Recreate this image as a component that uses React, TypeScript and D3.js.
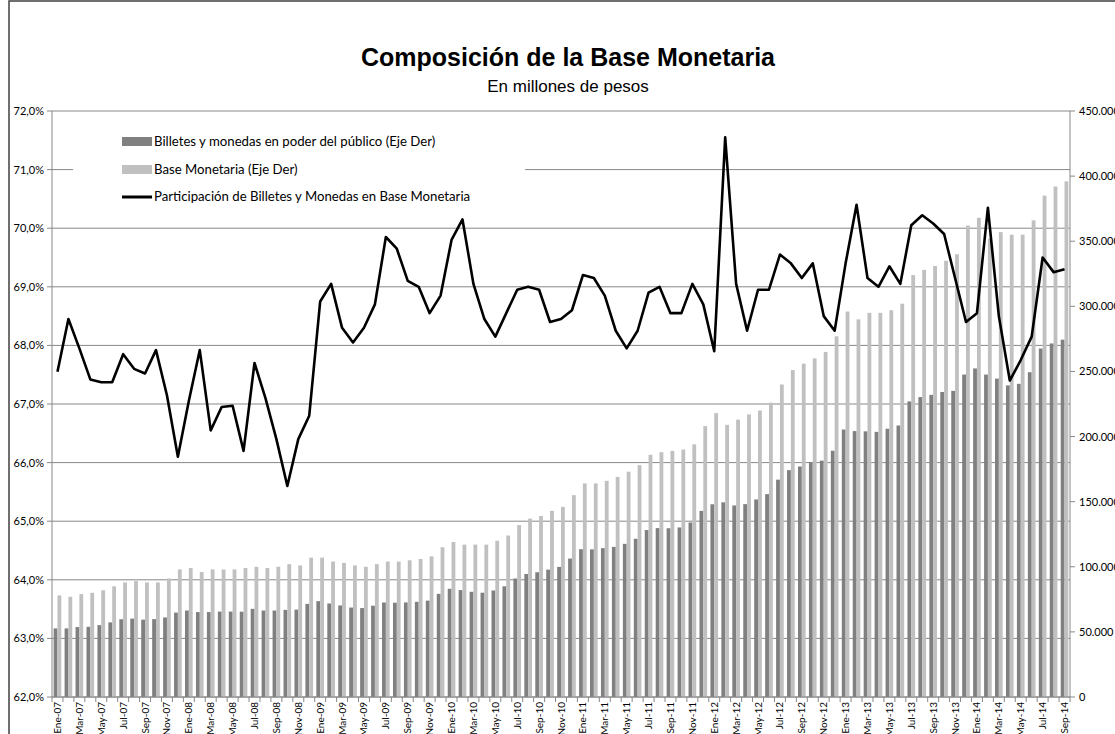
import React from "react";
import * as d3 from "d3";

const monthNames = ["Ene", "Feb", "Mar", "Abr", "May", "Jun", "Jul", "Ago", "Sep", "Oct", "Nov", "Dic"];
const years = ["07", "08", "09", "10", "11", "12", "13", "14"];
const categories: string[] = [];
years.forEach((y) => monthNames.forEach((m) => categories.push(`${m}-${y}`)));
categories.splice(93);

// Participación de Billetes y Monedas en Base Monetaria (%)
const shareValues = [
  67.55, 68.45, 67.95, 67.42, 67.37, 67.37, 67.85, 67.6, 67.52, 67.92, 67.15, 66.1,
  67.05, 67.92, 66.55, 66.95, 66.97, 66.2, 67.7, 67.1, 66.4, 65.6, 66.4, 66.8,
  68.75, 69.05, 68.3, 68.05, 68.3, 68.7, 69.85, 69.65, 69.1, 69.0, 68.55, 68.85,
  69.8, 70.15, 69.05, 68.45, 68.15, 68.55, 68.95, 69.0, 68.95, 68.4, 68.45, 68.6,
  69.2, 69.15, 68.85, 68.25, 67.95, 68.25, 68.9, 69.0, 68.55, 68.55, 69.05, 68.7,
  67.9, 71.55, 69.05, 68.25, 68.95, 68.95, 69.55, 69.4, 69.15, 69.4, 68.5, 68.25,
  69.4, 70.4, 69.15, 69.0, 69.35, 69.05, 70.05, 70.22, 70.08, 69.9, 69.15, 68.4,
  68.55, 70.35, 68.5, 67.4, 67.75, 68.15, 69.5, 69.25, 69.3,
];

// Base Monetaria (millones de pesos)
const baseValues = [
  78000, 77000, 79000, 80000, 82000, 85000, 88000, 89000, 88000, 88000, 91000, 98000,
  99000, 96000, 98000, 98000, 98000, 99000, 100000, 99000, 100000, 102000, 101000, 107000,
  107000, 104000, 103000, 101000, 100000, 102000, 104000, 104000, 105000, 106000, 108000, 115000,
  119000, 117000, 117000, 117000, 120000, 124000, 132000, 137000, 139000, 143000, 146000, 155000,
  164000, 164000, 166000, 169000, 173000, 178000, 186000, 188000, 189000, 190000, 194000, 208000,
  218000, 209000, 213000, 217000, 220000, 226000, 240000, 251000, 256000, 260000, 265000, 277000,
  296000, 290000, 295000, 295000, 297000, 302000, 324000, 328000, 331000, 335000, 340000, 362000,
  368000, 352000, 357000, 355000, 355000, 366000, 385000, 392000, 396000,
];

// Billetes y monedas en poder del público (millones de pesos)
const billetesValues = [
  52700, 52700, 53700, 53900, 55200, 57300, 59700, 60200, 59400, 59800, 61100, 64800,
  66400, 65200, 65200, 65600, 65600, 65500, 67700, 66400, 66400, 66900, 67100, 71500,
  73600, 71800, 70300, 68700, 68300, 70100, 72600, 72400, 72600, 73100, 74000, 79200,
  83100, 82100, 80800, 80100, 81800, 85000, 91000, 94500, 95800, 97800, 99900, 106300,
  113500, 113400, 114300, 115300, 117600, 121500, 128200, 129700, 129600, 130200, 134000, 142900,
  148000, 149500, 147100, 148100, 151700, 155800, 166900, 174200, 177000, 180400, 181500, 189100,
  205400, 204200, 204000, 203600, 206000, 208500, 227000, 230300, 232000, 234200, 235100, 247600,
  252300, 247600, 244500, 239300, 240500, 249400, 267600, 271500, 274400,
];

const leftTicks = [62, 63, 64, 65, 66, 67, 68, 69, 70, 71, 72];
const rightTicks = [0, 50000, 100000, 150000, 200000, 250000, 300000, 350000, 400000, 450000];

const titleText = "Composición de la Base Monetaria";
const subtitleText = "En millones de pesos";
const legendLabels = [
  "Billetes y monedas en poder del público (Eje Der)",
  "Base Monetaria (Eje Der)",
  "Participación de Billetes y Monedas en Base Monetaria",
];

const W = 1115;
const H = 734;
const L = 52;
const R = 1070;
const T = 111;
const B = 697;
const FONT = "Lato, 'Open Sans', sans-serif";
const DARK = "#808080";
const LIGHT = "#c0c0c0";
const AXIS = "#888888";

export default function App() {
  const x = d3.scaleBand<string>().domain(categories).range([L, R]).paddingInner(0).paddingOuter(0);
  const bw = x.bandwidth();
  const inner = d3.scaleBand<string>().domain(["b", "m"]).range([1.65, bw - 1.65]).padding(0);
  const yL = d3.scaleLinear().domain([62, 72]).range([B, T]);
  const yR = d3.scaleLinear().domain([0, 450000]).range([B, T]);
  const fmtL = (v: number) => d3.format(".1f")(v).replace(".", ",") + "%";
  const fmtR = (v: number) => (v === 0 ? "0" : d3.format(",")(v).replace(/,/g, "."));
  const line = d3
    .line<number>()
    .x((_, i) => (x(categories[i]) as number) + bw / 2)
    .y((d) => yL(d));

  return (
    <svg
      width={W}
      height={H}
      style={{ position: "absolute", left: 0, top: 0, background: "#fff" }}
      fontFamily={FONT}
    >
      <rect x={9} y={1} width={1200} height={900} fill="#fff" stroke="#404040" strokeWidth={1.5} />
      <text x={568} y={66} textAnchor="middle" fontFamily="'Liberation Sans', Arial, sans-serif" fontWeight="bold" fontSize={25}>
        {titleText}
      </text>
      <text x={568} y={92} textAnchor="middle" fontFamily="'Liberation Sans', Arial, sans-serif" fontSize={17}>
        {subtitleText}
      </text>

      {leftTicks.map((t) => (
        <line key={"g" + t} x1={L} x2={R} y1={yL(t)} y2={yL(t)} stroke={AXIS} strokeWidth={1} />
      ))}

      {categories.map((c, i) => (
        <g key={"b" + c}>
          <rect
            x={(x(c) as number) + (inner("b") as number)}
            y={yR(billetesValues[i])}
            width={inner.bandwidth()}
            height={B - yR(billetesValues[i])}
            fill={DARK}
          />
          <rect
            x={(x(c) as number) + (inner("m") as number)}
            y={yR(baseValues[i])}
            width={inner.bandwidth()}
            height={B - yR(baseValues[i])}
            fill={LIGHT}
          />
        </g>
      ))}

      <rect x={73} y={122} width={452} height={92} fill="#fff" />
      <rect x={122} y={137} width={30} height={9} fill={DARK} />
      <rect x={122} y={165} width={30} height={9} fill={LIGHT} />
      <line x1={122} x2={152} y1={197} y2={197} stroke="#000" strokeWidth={3} />
      {legendLabels.map((t, i) => (
        <text key={t} x={154} y={146 + i * 27.5} fontSize={13.2} fill="#000">
          {t}
        </text>
      ))}

      <path d={line(shareValues) || ""} fill="none" stroke="#000" strokeWidth={2.6} strokeLinejoin="round" />

      <line x1={L} x2={L} y1={T} y2={B} stroke={AXIS} />
      <line x1={R} x2={R} y1={T} y2={B} stroke={AXIS} />
      <line x1={L} x2={R} y1={B} y2={B} stroke={AXIS} />
      {leftTicks.map((t) => (
        <g key={"l" + t}>
          <line x1={L - 5} x2={L} y1={yL(t)} y2={yL(t)} stroke={AXIS} />
          <text x={44} y={yL(t) + 4} textAnchor="end" fontSize={11} fill="#000">
            {fmtL(t)}
          </text>
        </g>
      ))}
      {rightTicks.map((t) => (
        <g key={"r" + t}>
          <line x1={R} x2={R + 5} y1={yR(t)} y2={yR(t)} stroke={AXIS} />
          <text x={1079} y={yR(t) + 4} fontSize={11} fill="#000">
            {fmtR(t)}
          </text>
        </g>
      ))}
      {categories.map((c) => (
        <line key={"t" + c} x1={x(c) as number} x2={x(c) as number} y1={B} y2={B + 5} stroke={AXIS} />
      ))}
      <line x1={R} x2={R} y1={B} y2={B + 5} stroke={AXIS} />
      {categories.map((c, i) =>
        i % 2 === 0 ? (
          <text
            key={"x" + c}
            transform={`translate(${(x(c) as number) + bw / 2 + 3.5},${702}) rotate(-90)`}
            textAnchor="end"
            fontSize={10}
            fill="#000"
          >
            {c}
          </text>
        ) : null
      )}
    </svg>
  );
}
